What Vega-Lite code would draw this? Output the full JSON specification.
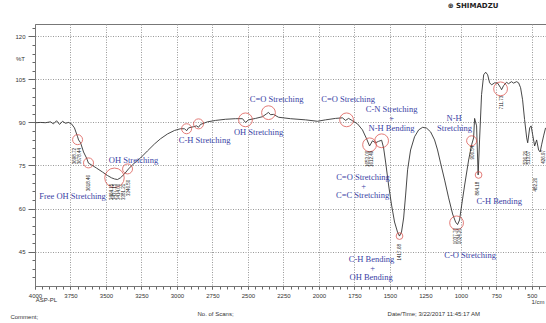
{
  "$schema": "https://vega.github.io/schema/vega-lite/v6.json",
  "width": 511,
  "height": 262,
  "autosize": {"type": "none"},
  "padding": {"left": 35, "top": 24, "right": 0, "bottom": 37},
  "background": "white",
  "config": {
    "font": "Liberation Sans",
    "view": {"stroke": "#777", "strokeWidth": 1}
  },
  "datasets": {
    "spectrum": [
      {"wn":3996,"t":89.9},{"wn":3961,"t":90.0},{"wn":3926,"t":89.9},{"wn":3891,"t":90.2},{"wn":3870,"t":89.5},{"wn":3848,"t":90.6},{"wn":3827,"t":89.3},{"wn":3806,"t":90.4},{"wn":3785,"t":89.7},{"wn":3764,"t":90.0},{"wn":3743,"t":89.5},{"wn":3722,"t":88.1},{"wn":3700,"t":85.0},{"wn":3693,"t":83.9},{"wn":3679,"t":82.9},{"wn":3658,"t":79.7},{"wn":3637,"t":77.6},{"wn":3623,"t":75.8},{"wn":3602,"t":75.2},{"wn":3567,"t":74.1},{"wn":3524,"t":72.7},{"wn":3489,"t":71.5},{"wn":3461,"t":70.7},{"wn":3440,"t":70.3},{"wn":3419,"t":70.1},{"wn":3398,"t":70.7},{"wn":3369,"t":72.1},{"wn":3341,"t":73.8},{"wn":3299,"t":75.9},{"wn":3257,"t":77.6},{"wn":3207,"t":80.1},{"wn":3158,"t":82.5},{"wn":3116,"t":84.3},{"wn":3066,"t":86.0},{"wn":3017,"t":87.2},{"wn":2975,"t":87.8},{"wn":2946,"t":87.8},{"wn":2932,"t":87.1},{"wn":2918,"t":88.1},{"wn":2883,"t":88.5},{"wn":2862,"t":88.8},{"wn":2848,"t":88.3},{"wn":2834,"t":89.3},{"wn":2785,"t":90.2},{"wn":2728,"t":90.7},{"wn":2658,"t":91.1},{"wn":2587,"t":91.3},{"wn":2538,"t":91.3},{"wn":2517,"t":90.0},{"wn":2496,"t":90.9},{"wn":2446,"t":91.4},{"wn":2397,"t":92.0},{"wn":2369,"t":93.0},{"wn":2355,"t":93.5},{"wn":2341,"t":92.7},{"wn":2320,"t":92.8},{"wn":2284,"t":91.8},{"wn":2200,"t":91.3},{"wn":2094,"t":90.9},{"wn":2010,"t":90.4},{"wn":1953,"t":90.9},{"wn":1883,"t":91.4},{"wn":1834,"t":91.6},{"wn":1812,"t":90.7},{"wn":1791,"t":91.4},{"wn":1763,"t":90.6},{"wn":1728,"t":89.5},{"wn":1693,"t":87.4},{"wn":1664,"t":84.3},{"wn":1643,"t":81.8},{"wn":1622,"t":83.6},{"wn":1601,"t":82.9},{"wn":1580,"t":83.4},{"wn":1558,"t":83.8},{"wn":1544,"t":81.1},{"wn":1530,"t":76.2},{"wn":1509,"t":68.2},{"wn":1488,"t":61.2},{"wn":1467,"t":55.3},{"wn":1446,"t":51.8},{"wn":1432,"t":50.4},{"wn":1418,"t":51.8},{"wn":1403,"t":56.7},{"wn":1389,"t":64.7},{"wn":1375,"t":73.5},{"wn":1354,"t":80.4},{"wn":1326,"t":85.0},{"wn":1297,"t":87.4},{"wn":1269,"t":88.3},{"wn":1241,"t":88.0},{"wn":1213,"t":86.7},{"wn":1185,"t":83.9},{"wn":1164,"t":80.4},{"wn":1143,"t":75.9},{"wn":1114,"t":69.9},{"wn":1086,"t":63.7},{"wn":1058,"t":58.1},{"wn":1037,"t":55.3},{"wn":1023,"t":54.4},{"wn":1009,"t":56.0},{"wn":994,"t":61.2},{"wn":973,"t":68.2},{"wn":945,"t":76.9},{"wn":924,"t":82.2},{"wn":910,"t":84.6},{"wn":903,"t":91.4},{"wn":889,"t":88.8},{"wn":878,"t":71.7},{"wn":868,"t":83.9},{"wn":854,"t":99.7},{"wn":839,"t":106.6},{"wn":825,"t":107.5},{"wn":811,"t":106.6},{"wn":797,"t":103.8},{"wn":783,"t":103.1},{"wn":762,"t":103.8},{"wn":741,"t":103.7},{"wn":720,"t":102.1},{"wn":713,"t":101.4},{"wn":699,"t":102.8},{"wn":678,"t":104.0},{"wn":664,"t":103.5},{"wn":643,"t":104.2},{"wn":629,"t":103.7},{"wn":607,"t":104.2},{"wn":593,"t":103.8},{"wn":579,"t":102.1},{"wn":565,"t":97.9},{"wn":551,"t":91.0},{"wn":536,"t":84.6},{"wn":529,"t":82.9},{"wn":515,"t":88.1},{"wn":505,"t":88.8},{"wn":494,"t":85.7},{"wn":480,"t":81.8},{"wn":466,"t":83.9},{"wn":452,"t":80.4},{"wn":441,"t":79.7},{"wn":431,"t":82.2},{"wn":417,"t":85.3},{"wn":403,"t":88.1}
    ],
    "ringsXS": [{"wn":1432,"t":50.4},{"wn":875,"t":71.7}],
    "ringsS": [{"wn":3700,"t":84.0},{"wn":3623,"t":75.9},{"wn":3348,"t":73.8},{"wn":2932,"t":87.8},{"wn":2848,"t":89.5},{"wn":924,"t":83.6}],
    "ringsM": [{"wn":2517,"t":90.9},{"wn":2355,"t":93.4},{"wn":1805,"t":90.9},{"wn":1643,"t":82.2},{"wn":1558,"t":83.6},{"wn":1030,"t":55.0},{"wn":720,"t":101.7}],
    "ringsL": [{"wn":3440,"t":70.7}],
    "notes": [
      {"wn":3736,"t":64.4,"label":"Free OH Stretching"},
      {"wn":3306,"t":76.9,"label":"OH Stretching"},
      {"wn":2805,"t":83.9,"label":"C-H Stretching"},
      {"wn":2425,"t":86.6,"label":"OH Stretching"},
      {"wn":2298,"t":98.1,"label":"C=O Stretching"},
      {"wn":1794,"t":98.1,"label":"C=O Stretching"},
      {"wn":1488,"t":94.6,"label":"C-N Stretching"},
      {"wn":1488,"t":91.6,"label":"+"},
      {"wn":1488,"t":88.2,"label":"N-H Bending"},
      {"wn":1689,"t":70.9,"label":"C=O Stretching"},
      {"wn":1685,"t":67.9,"label":"+"},
      {"wn":1692,"t":64.7,"label":"C=C Stretching"},
      {"wn":1629,"t":42.4,"label":"C-H Bending"},
      {"wn":1622,"t":39.3,"label":"+"},
      {"wn":1632,"t":36.2,"label":"OH Bending"},
      {"wn":935,"t":43.8,"label":"C-O Stretching"},
      {"wn":730,"t":62.6,"label":"C-H Bending"},
      {"wn":1047,"t":91.5,"label":"N-H"},
      {"wn":1044,"t":88.2,"label":"Stretching"}
    ],
    "peaks": [
      {"wn":3715,"t":81.1,"label":"3698.72"},
      {"wn":3686,"t":81.1,"label":"3678.44"},
      {"wn":3623,"t":71.7,"label":"3618.46"},
      {"wn":3461,"t":68.6,"label":"3464.15"},
      {"wn":3433,"t":68.6,"label":"3437.15"},
      {"wn":3405,"t":68.6,"label":"3414.00"},
      {"wn":3376,"t":68.6,"label":"3381.21"},
      {"wn":3341,"t":70.0,"label":"3346.50"},
      {"wn":1657,"t":80.1,"label":"1653.00"},
      {"wn":1629,"t":80.1,"label":"1612.49"},
      {"wn":1432,"t":47.6,"label":"1417.68"},
      {"wn":1037,"t":53.2,"label":"1037.70"},
      {"wn":1005,"t":53.2,"label":"1024.20"},
      {"wn":917,"t":81.9,"label":"906.54"},
      {"wn":882,"t":69.3,"label":"864.18"},
      {"wn":713,"t":99.3,"label":"711.73"},
      {"wn":544,"t":80.1,"label":"536.21"},
      {"wn":519,"t":80.1,"label":"513.07"},
      {"wn":473,"t":70.7,"label":"482.20"},
      {"wn":417,"t":80.4,"label":"426.97"}
    ],
    "footer": [
      {"wn":3919,"t":28.1,"label":"ASP-PL","anchor":"center"},
      {"wn":4173,"t":22.2,"label":"Comment;","anchor":"left"},
      {"wn":2855,"t":23.4,"label":"No. of Scans;","anchor":"left"},
      {"wn":1516,"t":23.4,"label":"Date/Time; 3/22/2017 11:45:17 AM","anchor":"left"}
    ],
    "brand": [{"wn":1093,"t":130.7,"label":"⊕ SHIMADZU"}]
  },
  "resolve": {"axis": {"x": "independent", "y": "independent"}},
  "layer": [
    {
      "data": {"name": "spectrum"},
      "mark": {"type": "point", "opacity": 0},
      "encoding": {
        "x": {"field": "wn", "type": "quantitative",
              "scale": {"domain": [400, 4000], "reverse": true, "nice": false, "zero": false},
              "axis": {"orient": "bottom", "values": [4000,3950,3900,3850,3800,3750,3700,3650,3600,3550,3500,3450,3400,3350,3300,3250,3200,3150,3100,3050,3000,2950,2900,2850,2800,2750,2700,2650,2600,2550,2500,2450,2400,2350,2300,2250,2200,2150,2100,2050,2000,1950,1900,1850,1800,1750,1700,1650,1600,1550,1500,1450,1400,1350,1300,1250,1200,1150,1100,1050,1000,950,900,850,800,750,700,650,600,550,500,450],
                       "labels": false, "grid": false, "domain": false, "tickSize": 3, "tickColor": "#666", "title": null}},
        "y": {"field": "t", "type": "quantitative",
              "scale": {"domain": [33, 124.3], "nice": false, "zero": false},
              "axis": {"orient": "left", "values": [36,39,42,45,48,51,54,57,60,63,66,69,72,75,78,81,84,87,90,93,96,99,102,105,108,111,114,117,120,123],
                       "labels": false, "grid": false, "domain": false, "tickSize": 3, "tickColor": "#666", "title": null}}
      }
    },
    {
      "data": {"name": "spectrum"},
      "mark": {"type": "line", "color": "#333", "strokeWidth": 0.9},
      "encoding": {
        "x": {"field": "wn", "type": "quantitative",
              "axis": {"orient": "bottom", "values": [4000,3750,3500,3250,3000,2750,2500,2250,2000,1750,1500,1250,1000,750,500],
                       "format": "d", "grid": true, "gridDash": [1, 1.5], "gridColor": "#999", "gridOpacity": 1,
                       "domainColor": "#777", "tickSize": 3, "tickColor": "#666", "labelFontSize": 6, "labelColor": "#333", "labelPadding": 3,
                       "labelFlush": false, "labelOverlap": false,
                       "title": "1/cm", "titleFontSize": 6, "titleFontWeight": "normal", "titleColor": "#333",
                       "titleX": 509, "titleY": 15, "titleAlign": "right", "titleBaseline": "middle"}},
        "y": {"field": "t", "type": "quantitative",
              "axis": {"orient": "left", "values": [45,60,75,90,105,120],
                       "grid": true, "gridDash": [1, 1.5], "gridColor": "#999", "gridOpacity": 1,
                       "domainColor": "#777", "tickSize": 7, "tickColor": "#666", "labelFontSize": 6, "labelColor": "#333", "labelPadding": 3,
                       "labelFlush": false,
                       "title": "%T", "titleFontSize": 6, "titleFontWeight": "normal", "titleColor": "#333", "titleAngle": 0,
                       "titleX": -15, "titleY": 34, "titleAlign": "center", "titleBaseline": "middle"}}
      }
    },
    {
      "data": {"name": "ringsXS"},
      "mark": {"type": "point", "shape": "circle", "filled": false, "color": "#d9453f", "strokeWidth": 1, "size": 45},
      "encoding": {"x": {"field": "wn", "type": "quantitative", "axis": null}, "y": {"field": "t", "type": "quantitative", "axis": null}}
    },
    {
      "data": {"name": "ringsS"},
      "mark": {"type": "point", "shape": "circle", "filled": false, "color": "#d9453f", "strokeWidth": 1, "size": 100},
      "encoding": {"x": {"field": "wn", "type": "quantitative", "axis": null}, "y": {"field": "t", "type": "quantitative", "axis": null}}
    },
    {
      "data": {"name": "ringsM"},
      "mark": {"type": "point", "shape": "circle", "filled": false, "color": "#d9453f", "strokeWidth": 1, "size": 190},
      "encoding": {"x": {"field": "wn", "type": "quantitative", "axis": null}, "y": {"field": "t", "type": "quantitative", "axis": null}}
    },
    {
      "data": {"name": "ringsL"},
      "mark": {"type": "point", "shape": "circle", "filled": false, "color": "#d9453f", "strokeWidth": 1, "size": 380},
      "encoding": {"x": {"field": "wn", "type": "quantitative", "axis": null}, "y": {"field": "t", "type": "quantitative", "axis": null}}
    },
    {
      "data": {"name": "notes"},
      "mark": {"type": "text", "font": "Liberation Serif", "fontSize": 8.5, "color": "#3a3fa5", "align": "center", "baseline": "middle"},
      "encoding": {"x": {"field": "wn", "type": "quantitative", "axis": null}, "y": {"field": "t", "type": "quantitative", "axis": null}, "text": {"field": "label"}}
    },
    {
      "data": {"name": "peaks"},
      "mark": {"type": "text", "fontSize": 4.5, "color": "#222", "angle": 270, "align": "right", "baseline": "middle"},
      "encoding": {"x": {"field": "wn", "type": "quantitative", "axis": null}, "y": {"field": "t", "type": "quantitative", "axis": null}, "text": {"field": "label"}}
    },
    {
      "data": {"name": "footer"},
      "transform": [{"filter": "datum.anchor === 'left'"}],
      "mark": {"type": "text", "fontSize": 6, "color": "#333", "align": "left", "baseline": "middle"},
      "encoding": {"x": {"field": "wn", "type": "quantitative", "axis": null}, "y": {"field": "t", "type": "quantitative", "axis": null}, "text": {"field": "label"}}
    },
    {
      "data": {"name": "footer"},
      "transform": [{"filter": "datum.anchor === 'center'"}],
      "mark": {"type": "text", "fontSize": 6, "color": "#333", "align": "center", "baseline": "middle"},
      "encoding": {"x": {"field": "wn", "type": "quantitative", "axis": null}, "y": {"field": "t", "type": "quantitative", "axis": null}, "text": {"field": "label"}}
    },
    {
      "data": {"name": "brand"},
      "mark": {"type": "text", "font": "DejaVu Sans", "fontSize": 7, "fontWeight": "bold", "color": "#222", "align": "left", "baseline": "middle"},
      "encoding": {"x": {"field": "wn", "type": "quantitative", "axis": null}, "y": {"field": "t", "type": "quantitative", "axis": null}, "text": {"field": "label"}}
    }
  ]
}
